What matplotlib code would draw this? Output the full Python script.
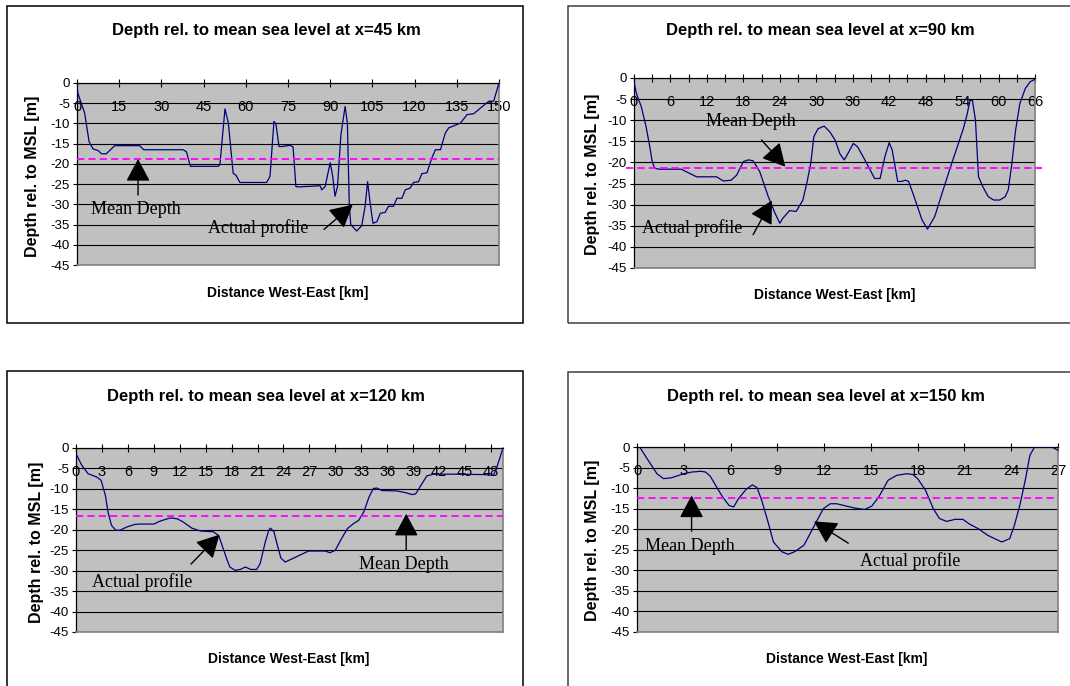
import matplotlib
matplotlib.use('Agg')
import matplotlib.pyplot as plt
from matplotlib.patches import Rectangle
from matplotlib.ticker import MultipleLocator

W, H = 1070, 686
plt.rcParams['font.family'] = ['Liberation Sans', 'DejaVu Sans']
plt.rcParams['axes.unicode_minus'] = False

# ---------------- data ----------------
titles = ["Depth rel. to mean sea level at x=45 km",
          "Depth rel. to mean sea level at x=90 km",
          "Depth rel. to mean sea level at x=120 km",
          "Depth rel. to mean sea level at x=150 km"]
y_label = "Depth rel. to MSL [m]"
x_label = "Distance West-East [km]"
y_ticks = [0, -5, -10, -15, -20, -25, -30, -35, -40, -45]

p45_x = [0, 0.3, 2.7, 4.3, 5.7, 7.5, 8.7, 10.4, 13.4, 22.3, 23.7, 37.7, 38.9, 40.3, 41.2,
         50.2, 50.8, 52.6, 53.8, 55.5, 56.5, 57.9, 67.4, 68.6, 70.0, 70.7, 71.8, 73.0,
         75.7, 76.8, 77.8, 78.6, 86.4, 87.0, 88.2, 90.0, 90.9, 91.7, 92.6, 93.8, 95.3,
         96.1, 96.8, 97.3, 99.4, 101.2, 102.4, 103.3, 104.2, 105.2, 106.6, 107.8, 109.5,
         110.7, 112.5, 113.7, 115.5, 116.7, 118.4, 119.6, 121.4, 122.6, 124.4, 126.1,
         127.4, 129.2, 130.9, 132.1, 133.9, 136.3, 138.7, 141.0, 143.4, 146.4, 148.1, 150.0]
p45_y = [-1.0, -2.5, -7.4, -14.5, -16.3, -16.7, -17.5, -17.5, -15.5, -15.5, -16.5, -16.5,
         -17.0, -20.6, -20.6, -20.6, -20.2, -6.4, -9.9, -22.3, -22.8, -24.6, -24.6, -23.1,
         -9.5, -10.1, -15.7, -15.7, -15.4, -15.8, -25.6, -25.7, -25.4, -26.4, -25.6, -19.7,
         -23.1, -28.0, -25.6, -12.8, -5.8, -9.9, -30.5, -35.0, -36.6, -35.3, -30.5, -24.4,
         -29.7, -34.7, -34.3, -32.2, -32.0, -30.5, -30.5, -28.5, -28.5, -26.4, -26.0, -24.6,
         -24.4, -22.4, -22.2, -18.6, -16.5, -16.5, -12.4, -11.1, -10.6, -9.9, -7.8, -7.6,
         -6.2, -4.5, -4.5, 0.0]
p45_mean = -18.8

p90_x = [0, 0.4, 1.2, 2.0, 2.6, 3.0, 3.4, 4.2, 7.8, 8.6, 10.3, 13.6, 14.7, 16.0, 16.9, 18.0,
         18.8, 19.6, 20.7, 22.1, 23.2, 24.0, 24.5, 25.6, 26.7, 27.8, 28.5, 29.1, 29.6, 30.3,
         31.3, 32.2, 33.1, 33.9, 34.6, 35.2, 36.1, 36.8, 38.0, 39.6, 40.5, 41.3, 42.0, 42.5,
         43.4, 44.0, 44.7, 45.2, 46.0, 47.4, 48.3, 49.5, 50.7, 52.2, 53.4, 54.2, 54.8, 55.3,
         55.7, 56.2, 56.7, 57.4, 58.3, 59.2, 60.2, 61.1, 61.6, 62.2, 62.8, 63.5, 64.4, 65.2, 66.0]
p90_y = [-0.9, -3.7, -6.8, -11.6, -16.3, -19.8, -21.4, -21.6, -21.6, -22.2, -23.4, -23.4,
         -24.4, -24.2, -23.0, -19.8, -19.4, -19.6, -22.2, -28.1, -32.0, -34.4, -33.2, -31.4,
         -31.6, -28.9, -24.5, -20.2, -13.9, -12.0, -11.4, -12.7, -14.7, -18.0, -19.4, -17.9,
         -15.5, -16.3, -19.4, -23.8, -23.8, -18.6, -15.3, -17.1, -24.5, -24.5, -24.2, -24.5,
         -27.7, -33.6, -35.8, -32.8, -27.3, -20.6, -15.5, -12.0, -8.8, -5.3, -5.3, -10.0,
         -23.4, -25.7, -28.1, -28.9, -28.9, -28.1, -26.5, -20.2, -12.4, -6.1, -2.5, -0.9, -0.3]
p90_mean = -21.4

p120_x = [0, 0.66, 1.4, 2.4, 2.9, 3.4, 3.7, 4.1, 4.6, 5.1, 5.9, 6.8, 7.4, 9.0, 9.7, 10.9,
          11.7, 12.4, 13.4, 14.4, 15.9, 16.5, 16.9, 17.5, 17.8, 18.4, 19.0, 19.6, 20.2, 20.9,
          21.3, 21.9, 22.3, 22.5, 22.9, 23.3, 23.7, 24.2, 25.2, 26.9, 28.8, 29.4, 30.0, 30.6,
          31.4, 32.1, 32.7, 33.3, 33.9, 34.4, 34.8, 35.4, 37.1, 38.1, 38.9, 39.3, 39.8, 40.6,
          41.4, 43.3, 47.2, 48.3, 48.7, 49.4]
p120_y = [-1.4, -4.2, -6.3, -7.1, -7.9, -11.6, -15.6, -18.9, -20.1, -20.1, -19.3, -18.7,
          -18.6, -18.6, -17.9, -17.1, -17.3, -18.1, -19.6, -20.3, -20.5, -21.4, -23.8, -27.5,
          -29.1, -29.9, -29.7, -29.1, -29.7, -29.7, -28.3, -23.0, -20.1, -19.6, -20.5, -23.8,
          -26.9, -27.9, -26.9, -25.2, -25.2, -25.6, -25.0, -22.6, -19.7, -18.5, -17.7, -15.6,
          -12.0, -9.9, -9.8, -10.4, -10.5, -10.9, -11.4, -11.2, -9.5, -6.8, -6.4, -6.4, -6.5,
          -6.7, -4.6, 0.0]
p120_mean = -16.6

p150_x = [0.17, 0.64, 1.28, 1.7, 2.2, 3.0, 3.5, 4.1, 4.4, 4.7, 5.1, 5.5, 5.9, 6.2, 6.5, 7.0,
          7.4, 7.7, 8.0, 8.4, 8.75, 9.3, 9.7, 10.1, 10.7, 11.1, 11.5, 11.95, 12.4, 12.8, 13.9,
          14.6, 15.05, 15.5, 16.1, 16.65, 17.3, 17.7, 18.0, 18.5, 19.0, 19.4, 19.85, 20.4,
          20.9, 21.3, 21.9, 22.5, 23.05, 23.4, 23.9, 24.2, 24.55, 24.9, 25.2, 25.5, 26.6, 27.0]
p150_y = [0.0, -2.8, -6.5, -7.7, -7.5, -6.5, -6.1, -5.9, -6.1, -7.1, -9.7, -12.2, -14.2,
          -14.6, -12.6, -10.3, -9.2, -9.9, -13.0, -18.2, -23.1, -25.5, -26.1, -25.5, -23.9,
          -21.1, -18.2, -15.0, -13.8, -13.8, -14.8, -15.2, -14.4, -12.2, -8.1, -6.9, -6.5,
          -6.7, -7.7, -10.5, -15.0, -17.4, -18.1, -17.6, -17.6, -18.7, -19.9, -21.5, -22.5,
          -23.1, -22.3, -19.1, -14.2, -8.1, -2.0, 0.0, 0.0, -0.8]
p150_mean = -12.4

# ---------------- layout (pixels, top-left origin) ----------------
panels = [
    dict(x=p45_x, y=p45_y, mean=p45_mean, title=titles[0], xmax=150, lab=15, minor=15,
         ax=(77, 83, 499, 265), box=(7, 6, 523, 323), boxc='black',
         tpos=(266, 31), ylpos=(33, 176), xlpos=(288, 293), mext=(0, 1),
         notes=[("Mean Depth", (5.1, -31.2), (21.7, -18.8), (21.7, -27.7)),
                ("Actual profile", (46.6, -35.9), (98.0, -30.1), (87.8, -36.2))]),
    dict(x=p90_x, y=p90_y, mean=p90_mean, title=titles[1], xmax=66, lab=6, minor=3,
         ax=(634, 78, 1035, 268), box=(568, 6, 1080, 323), boxc='#404040',
         tpos=(820, 30), ylpos=(592, 174), xlpos=(835, 295), mext=(-0.019, 1.017),
         notes=[("Mean Depth", (11.8, -10.2), (24.9, -21.0), (21.0, -14.7)),
                ("Actual profile", (1.3, -35.6), (22.7, -29.0), (19.6, -37.1))]),
    dict(x=p120_x, y=p120_y, mean=p120_mean, title=titles[2], xmax=49.4, lab=3, minor=3,
         ax=(76, 448, 503, 632), box=(7, 371, 523, 700), boxc='black',
         tpos=(266, 397), ylpos=(37, 542), xlpos=(289, 659), mext=(0, 1),
         notes=[("Actual profile", (1.8, -32.8), (16.6, -21.2), (13.3, -28.4)),
                ("Mean Depth", (32.7, -28.5), (38.2, -16.1), (38.2, -25.0))]),
    dict(x=p150_x, y=p150_y, mean=p150_mean, title=titles[3], xmax=27, lab=3, minor=3,
         ax=(637, 447, 1058, 632), box=(568, 372, 1080, 700), boxc='#404040',
         tpos=(826, 397), ylpos=(593, 540), xlpos=(847, 659), mext=(0, 1),
         notes=[("Mean Depth", (0.53, -24.1), (3.5, -11.8), (3.5, -20.5)),
                ("Actual profile", (14.3, -27.8), (11.35, -18.1), (13.55, -23.4))]),
]

fig = plt.figure(figsize=(W / 100, H / 100), dpi=100)


def fx(px):
    return px / W


def fy(py):
    return 1 - py / H


for p in panels:
    x0, y0, x1, y1 = p['box']
    fig.patches.append(Rectangle((fx(x0), fy(y1)), fx(x1 - x0), (y1 - y0) / H,
                                 transform=fig.transFigure, fill=False,
                                 ec=p['boxc'], lw=1.1, zorder=0))
    a0, b0, a1, b1 = p['ax']
    ax = fig.add_axes([fx(a0), fy(b1), fx(a1 - a0), (b1 - b0) / H])
    ax.set_facecolor('#C0C0C0')
    ax.set_xlim(0, p['xmax'])
    ax.set_ylim(-45, 0)
    ax.set_yticks(y_ticks)
    ax.set_yticklabels([str(v) for v in y_ticks])
    ax.yaxis.grid(True, color='black', lw=0.8)
    ax.set_axisbelow(True)
    ax.xaxis.set_major_locator(MultipleLocator(p['lab']))
    ax.xaxis.set_minor_locator(MultipleLocator(p['minor']))
    ax.tick_params(axis='x', which='both', bottom=False, top=True, labelbottom=False,
                   labeltop=True, direction='inout', length=6, width=0.8, color='black',
                   pad=-25.5, labelsize=10.5)
    ax.tick_params(axis='y', which='both', left=True, direction='out', length=3,
                   width=0.8, pad=2, labelsize=9.5)
    for s in ('top', 'left'):
        ax.spines[s].set_color('black')
        ax.spines[s].set_linewidth(0.9)
    for s in ('right', 'bottom'):
        ax.spines[s].set_color('#808080')
        ax.spines[s].set_linewidth(1.2)
    ax.plot(p['x'], p['y'], color='#000080', lw=0.9, zorder=3)
    ax.plot(list(p['mext']), [p['mean'], p['mean']], transform=ax.get_yaxis_transform(),
            color='#FF00FF', lw=1.3, ls=(0, (4, 2.3)), clip_on=False, zorder=3)
    for txt, tpos, tip, tail in p['notes']:
        ax.annotate('', xy=tip, xytext=tail,
                    arrowprops=dict(arrowstyle='-|>,head_length=1.4,head_width=0.75',
                                    color='black', lw=1.0, shrinkA=0, shrinkB=0),
                    zorder=4)
        ax.text(tpos[0], tpos[1], txt, family=['Liberation Serif', 'DejaVu Serif'],
                fontsize=13, ha='left', va='center', zorder=4)
    fig.text(fx(p['tpos'][0]), fy(p['tpos'][1]), p['title'], ha='center', va='center',
             fontsize=12, fontweight='bold')
    fig.text(fx(p['ylpos'][0]), fy(p['ylpos'][1]), y_label, ha='center', va='center',
             rotation=90, fontsize=11.5, fontweight='bold')
    fig.text(fx(p['xlpos'][0]), fy(p['xlpos'][1]), x_label, ha='center', va='center',
             fontsize=10, fontweight='bold')

fig.savefig('out.png', dpi=100)
